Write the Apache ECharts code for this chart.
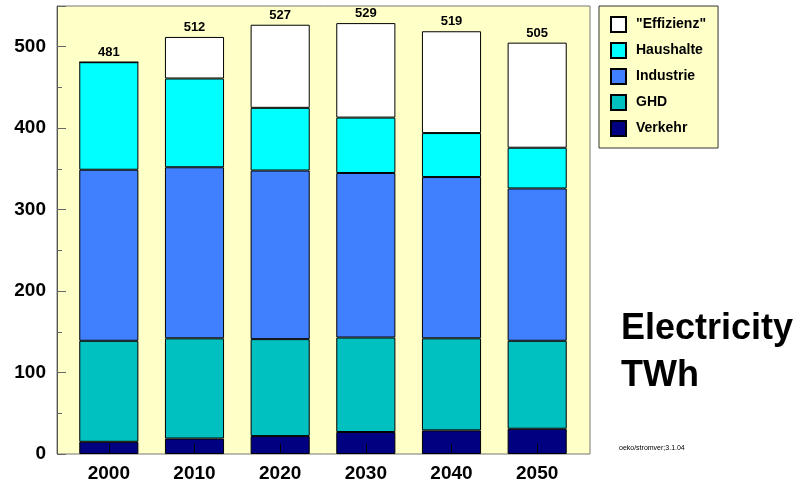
<!DOCTYPE html>
<html><head><meta charset="utf-8">
<script src="https://cdn.jsdelivr.net/npm/echarts@6/dist/echarts.min.js"></script>
<style>html,body{margin:0;padding:0;background:#fff}#c{width:800px;height:484px}</style>
</head><body><div id="c"></div>
<script>
var years = ['2000','2010','2020','2030','2040','2050'];
var verkehr   = [15, 19, 22, 27, 29, 31];
var ghd       = [124, 123, 119, 116, 113, 108];
var industrie = [210, 210, 207, 202, 198, 187];
var haushalte = [132, 109, 77, 68, 54, 50];
var effizienz = [0, 51, 102, 116, 125, 129];
var totals    = [481, 512, 527, 529, 519, 505];

var FONT = '"Liberation Sans", Arial, Helvetica, sans-serif';
var chart = echarts.init(document.getElementById('c'), null, {renderer:'canvas'});

function mk(name, data, color, withLabel) {
  var s = {
    name: name, type: 'bar', stack: 'all', data: data,
    xAxisIndex: 1, yAxisIndex: 1,
    barCategoryGap: '31%',
    itemStyle: {color: color, borderColor: '#000', borderWidth: 1},
    emphasis: {disabled: true}
  };
  if (withLabel) {
    s.label = {show: true, position: 'top', distance: 3, color: '#000',
      fontFamily: FONT, fontWeight: 'bold', fontSize: 13,
      formatter: function (p) { return String(totals[p.dataIndex]); }};
  }
  return s;
}

chart.setOption({
  animation: false,
  backgroundColor: '#fff',
  grid: [
    {left: 57, top: 6, width: 533, height: 448, show: true, backgroundColor: '#ffffc8',
     borderColor: '#777', borderWidth: 1},
    {left: 66, top: 6, width: 514, height: 448}
  ],
  xAxis: [
    {type: 'value', gridIndex: 0, min: 0, max: 1, show: false},
    {type: 'category', gridIndex: 1, data: years, z: 10,
     axisLine: {show: false},
     axisTick: {show: true, inside: true, length: 10, alignWithLabel: true, lineStyle: {color: '#000'}},
     axisLabel: {color: '#000', fontFamily: FONT, fontWeight: 'bold', fontSize: 19, margin: 10}}
  ],
  yAxis: [
    {type: 'value', gridIndex: 0, min: 0, max: 550, interval: 100, z: 10,
     axisLine: {show: true, lineStyle: {color: '#555'}},
     axisTick: {show: true, inside: true, length: 9, lineStyle: {color: '#666'}},
     minorTick: {show: true, splitNumber: 2, length: 5, lineStyle: {color: '#666'}},
     splitLine: {show: false},
     axisLabel: {color: '#000', fontFamily: FONT, fontWeight: 'bold', fontSize: 19, margin: 11,
       formatter: function (v) { return v % 100 === 0 && v <= 500 ? String(v) : ''; }}},
    {type: 'value', gridIndex: 1, min: 0, max: 550, show: false}
  ],
  legend: {
    orient: 'vertical', left: 599, top: 6,
    data: ['"Effizienz"', 'Haushalte', 'Industrie', 'GHD', 'Verkehr'],
    backgroundColor: '#ffffc8', borderColor: '#333', borderWidth: 1,
    padding: [10, 12, 11, 11], itemGap: 9, itemWidth: 15, itemHeight: 15,
    icon: 'rect',
    textStyle: {color: '#000', fontFamily: FONT, fontWeight: 'bold', fontSize: 14, padding: [0,0,0,5]},
    selectedMode: false
  },
  title: [
    {text: 'Electricity\nTWh', left: 621, top: 306, padding: 0,
     textStyle: {color: '#000', fontFamily: FONT, fontWeight: 'bold', fontSize: 36, lineHeight: 47}},
    {text: 'oeko/stromver;3.1.04', left: 619, top: 445, padding: 0,
     textStyle: {color: '#000', fontFamily: FONT, fontWeight: 'normal', fontSize: 7}}
  ],
  series: [
    mk('Verkehr', verkehr, '#000080', false),
    mk('GHD', ghd, '#00c0c0', false),
    mk('Industrie', industrie, '#4080ff', false),
    mk('Haushalte', haushalte, '#00ffff', false),
    mk('"Effizienz"', effizienz, '#ffffff', true)
  ]
});
</script></body></html>
